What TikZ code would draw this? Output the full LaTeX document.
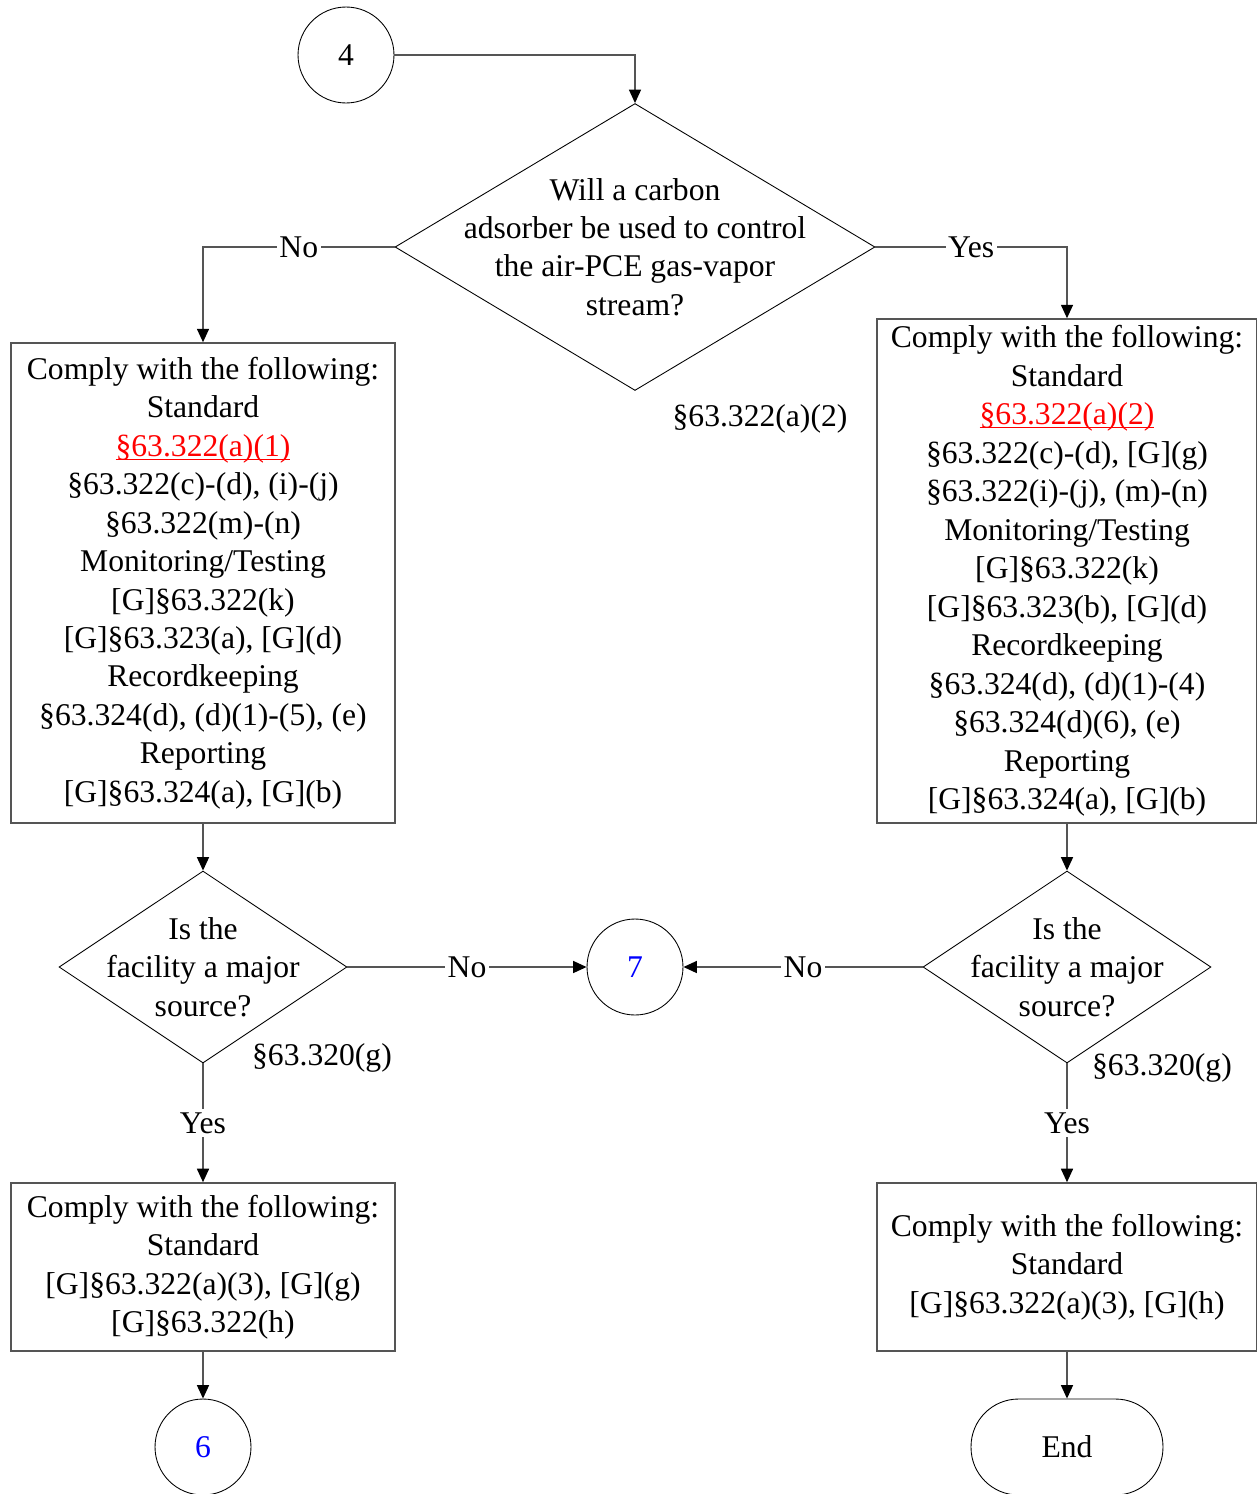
\documentclass[tikz,border=0pt]{standalone}
\usepackage{fontspec}
\setmainfont{Liberation Serif}
\usetikzlibrary{positioning,shapes.geometric,arrows.meta}
\tikzstyle{page} = [x = 0.02cm, y = -0.02cm]
\definecolor{linkColor}{RGB}{255,0,0}
\definecolor{stepColor}{RGB}{0,0,255}
\definecolor{lineColor}{RGB}{85,85,85}
\tikzstyle{flowText} = [font=\fontsize{18}{21.9}\selectfont, align=center, inner sep=0pt]
\tikzstyle{ruleBox} = [flowText, draw=lineColor, line width=0.9pt, rectangle, minimum width=7.68cm]
\tikzstyle{choiceStyle} = [draw=black, diamond, inner sep=0pt, line width=0.5pt]
\tikzstyle{connectorStyle} = [draw=lineColor, line width=0.9pt, -{Triangle[length=0.27cm, width=0.24cm, color=black]}]
\tikzstyle{branchText} = [flowText, fill=white, inner xsep=1.5pt, inner ysep=2pt]
\tikzstyle{offPage} = [flowText, draw=black, line width=0.5pt, circle, minimum size=1.92cm]
\tikzstyle{endStyle} = [flowText, draw=black, line width=0.5pt, rectangle, rounded corners=0.95cm, minimum width=3.84cm, minimum height=1.92cm]
\newcommand{\sectionLink}[1]{\textcolor{linkColor}{\setbox0\hbox{#1}\rlap{\rule[-2pt]{\wd0}{0.6pt}}\box0}}

\begin{document}
\begin{tikzpicture}[page]
  \useasboundingbox (0,0) rectangle (1257,1494);

  \node[offPage] (fromFour) at (346,55) {4};
  \node[choiceStyle, minimum width=9.6cm, minimum height=5.74cm] (carbonChoice) at (635,247) {};
  \node[flowText] (carbonText) at (carbonChoice) {Will a carbon\\adsorber be used to control\\the air-PCE gas-vapor\\stream?};
  \node[flowText] (carbonRef) at (760,419) {§63.322(a)(2)};

  \node[ruleBox, minimum height=9.6cm] (standardLeft) at (203,583) {Comply with the following:\\Standard\\\sectionLink{§63.322(a)(1)}\\§63.322(c)-(d), (i)-(j)\\§63.322(m)-(n)\\Monitoring/Testing\\{[G]}§63.322(k)\\{[G]}§63.323(a), [G](d)\\Recordkeeping\\§63.324(d), (d)(1)-(5), (e)\\Reporting\\{[G]}§63.324(a), [G](b)};
  \node[ruleBox, minimum width=7.6cm, minimum height=10.08cm] (standardRight) at (1067,571) {Comply with the following:\\Standard\\\sectionLink{§63.322(a)(2)}\\§63.322(c)-(d), [G](g)\\§63.322(i)-(j), (m)-(n)\\Monitoring/Testing\\{[G]}§63.322(k)\\{[G]}§63.323(b), [G](d)\\Recordkeeping\\§63.324(d), (d)(1)-(4)\\§63.324(d)(6), (e)\\Reporting\\{[G]}§63.324(a), [G](b)};

  \node[choiceStyle, minimum width=5.76cm, minimum height=3.84cm] (majorLeft) at (203,967) {};
  \node[flowText] (majorLeftText) at (majorLeft) {Is the\\facility a major\\source?};
  \node[flowText] (majorLeftRef) at (322,1058) {§63.320(g)};
  \node[choiceStyle, minimum width=5.76cm, minimum height=3.84cm] (majorRight) at (1067,967) {};
  \node[flowText] (majorRightText) at (majorRight) {Is the\\facility a major\\source?};
  \node[flowText] (majorRightRef) at (1162,1068) {§63.320(g)};
  \node[offPage, text=stepColor] (toSeven) at (635,967) {7};

  \node[ruleBox, minimum height=3.36cm] (majorStandardLeft) at (203,1267) {Comply with the following:\\Standard\\{[G]}§63.322(a)(3), [G](g)\\{[G]}§63.322(h)};
  \node[ruleBox, minimum width=7.6cm, minimum height=3.36cm] (majorStandardRight) at (1067,1267) {Comply with the following:\\Standard\\{[G]}§63.322(a)(3), [G](h)};
  \node[offPage, text=stepColor] (toSix) at (203,1447) {6};
  \node[endStyle] (finish) at (1067,1447) {End};

  \draw[connectorStyle] (fromFour.east) -| (carbonChoice.north);
  \draw[connectorStyle] (carbonChoice.west) -| node[branchText, pos=0.25] {No} (standardLeft.north);
  \draw[connectorStyle] (carbonChoice.east) -| node[branchText, pos=0.25] {Yes} (standardRight.north);
  \draw[connectorStyle] (standardLeft.south) -- (majorLeft.north);
  \draw[connectorStyle] (standardRight.south) -- (majorRight.north);
  \draw[connectorStyle] (majorLeft.east) -- node[branchText] {No} (toSeven.west);
  \draw[connectorStyle] (majorRight.west) -- node[branchText] {No} (toSeven.east);
  \draw[connectorStyle] (majorLeft.south) -- node[branchText] {Yes} (majorStandardLeft.north);
  \draw[connectorStyle] (majorRight.south) -- node[branchText] {Yes} (majorStandardRight.north);
  \draw[connectorStyle] (majorStandardLeft.south) -- (toSix.north);
  \draw[connectorStyle] (majorStandardRight.south) -- (finish.north);
\end{tikzpicture}
\end{document}
